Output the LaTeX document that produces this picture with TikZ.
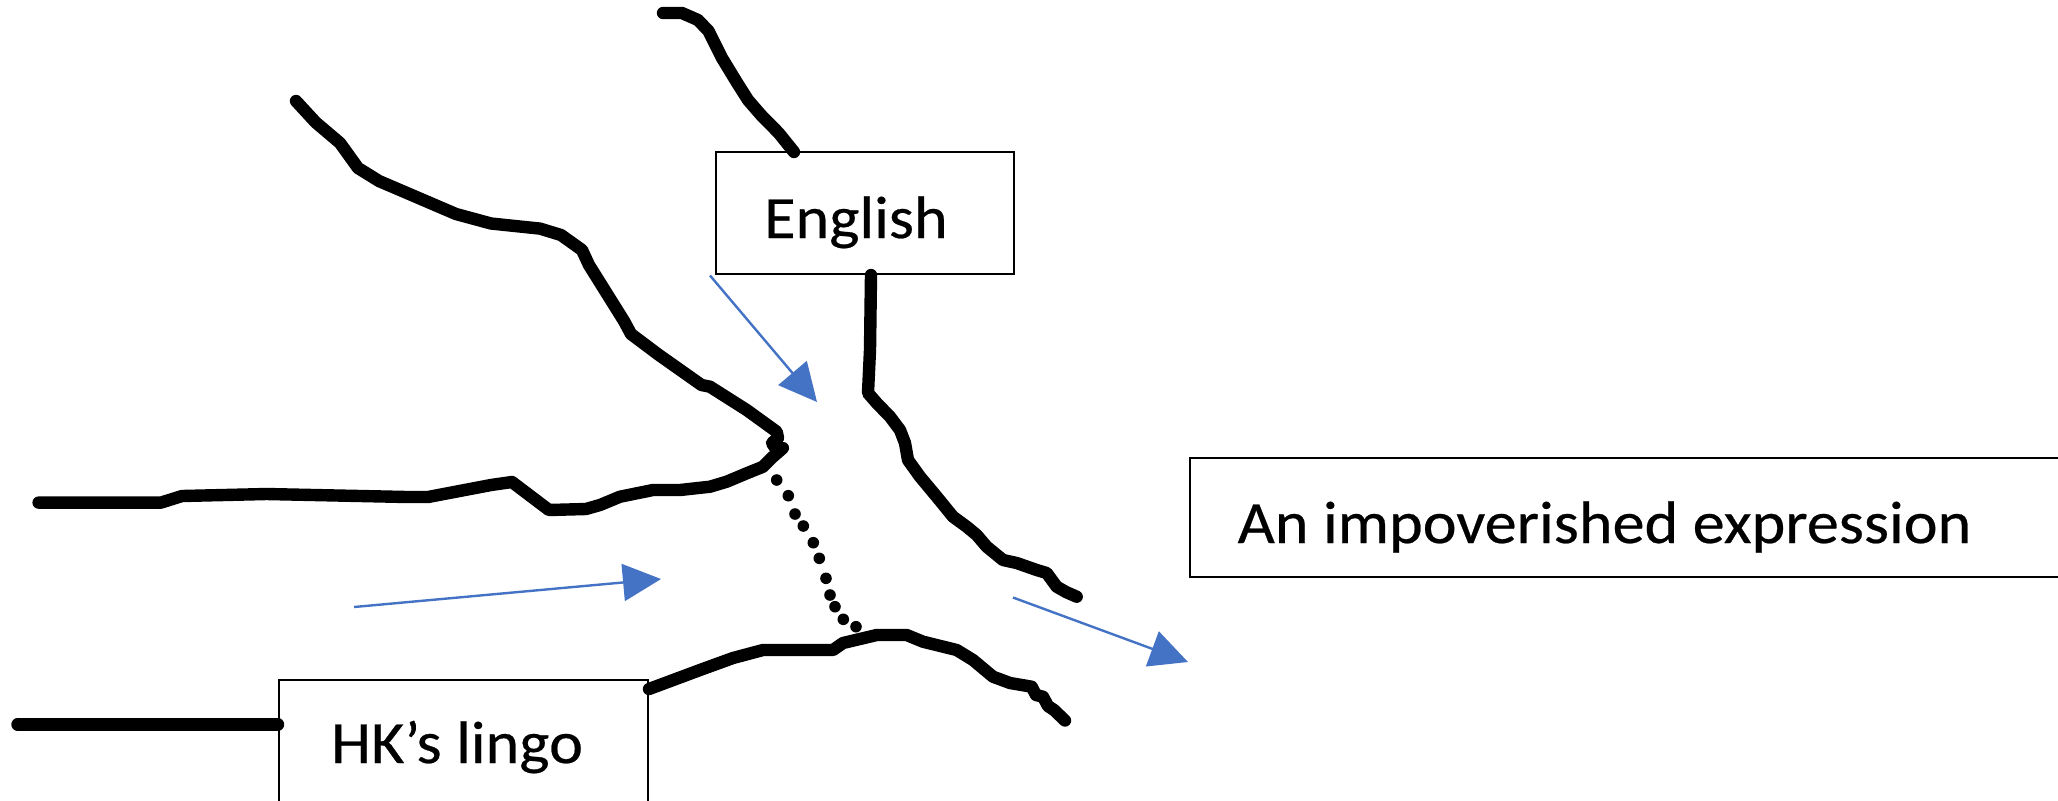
\documentclass[tikz,border=0pt]{standalone}
\usepackage{fontspec}
\setmainfont{Carlito}[FakeStretch=1.07,FakeBold=0.4]
\usetikzlibrary{arrows.meta,calc}
\definecolor{arrowblue}{HTML}{4472C4}
\begin{document}
\begin{tikzpicture}[x=0.5pt,y=-0.5pt,
  river/.style={line width=6.2pt,line cap=round,line join=round},
  flow/.style={draw=arrowblue,line width=1.2pt,-{Triangle[length=19pt,width=18.5pt]},arrowblue},
  box/.style={draw,line width=1pt,inner sep=0pt,fill=white},
  lab/.style={font=\fontsize{30}{36}\selectfont,inner sep=0pt,anchor=base}]
\clip (0,0) rectangle (2058,800);
\fill[white] (0,0) rectangle (2058,800);

% boxes
\node[box,minimum width=149pt,minimum height=61pt] (eng) at (864.6,213) {};
\node[box,minimum width=184.5pt,minimum height=75pt] (hk) at (463.5,755) {};
\node[box,minimum width=445pt,minimum height=59.5pt] (imp) at (1635,517.5) {};

\node[lab] (engt) at (856,238) {English};
\node[lab] (hkt) at (457,763) {HK’s lingo};
\node[lab] (impt) at (1604.5,543) {An impoverished expression};

% top-left English bank (ends at box top)
\draw[river] (663,13) -- (682,13) -- (698,20) -- (708.5,31) -- (722,58) -- (736.6,82)
  -- (748,100) -- (761,115) -- (778.7,133) -- (794,152);

% right bank from English box
\draw[river] ([xshift=3.2pt]eng.south) -- (870,350) -- (868,393) -- (876.7,403) -- (890,416.7)
  -- (900,430) -- (905,443) -- (908,460) -- (920,476.7) -- (936.7,496.7) -- (953,516.7)
  -- (966.7,526.7) -- (976.7,535) -- (986.7,546.7) -- (1003,560) -- (1016.7,563)
  -- (1036.7,570) -- (1046.7,573) -- (1056.7,586.7) -- (1066,592) -- (1076.7,596.7);

% left bank: from top-left, to junction, then back to the left
\draw[river] (296,101) -- (315.7,122.4) -- (340,143) -- (358,168) -- (379,181) -- (414,196)
  -- (456,214) -- (491,223.5) -- (540,228.6) -- (561,235) -- (582,250) -- (589,265)
  -- (624,321) -- (631,334) -- (659,355) -- (701.5,385) -- (710,386.7) -- (746.7,410)
  -- (776.7,431.7) -- (778,438) -- (772,443) -- (776,449) -- (783,448) -- (773,456.7)
  -- (763,466.7) -- (746.7,473.3) -- (726.7,481.7) -- (710,486.7) -- (680,490)
  -- (653,490) -- (620,496.7) -- (600,505) -- (586,509) -- (549,510) -- (512,482)
  -- (491,485) -- (428,497) -- (407,497) -- (266.6,494) -- (182,496) -- (161,502.6)
  -- (38.6,502.6);

% lower bank from HK box
\draw[river] ([yshift=-5pt]hk.north east) -- (700,670) -- (733,658) -- (763,650) -- (833,650)
  -- (843,643) -- (876.7,635) -- (906.7,635) -- (923,641.7) -- (956.7,650) -- (973,660)
  -- (993,676.7) -- (1010,683) -- (1031.7,686.7) -- (1036,695) -- (1043,696.7)
  -- (1048,706) -- (1054,710) -- (1065,720.5);

% line into HK box
\draw[river] (17.5,724.5) -- (hk.west |- {(0,724.5)});

% dotted boundary
\foreach \p in {(776.7,480),(788.3,495.7),(795,514),(803.3,526),(813.3,542.7),
  (819.3,558.3),(826,578.3),(830,595),(835,606.7),(843.3,619.3),(856,626.7)}
  \fill \p circle (2.9pt);

% blue flow arrows
\draw[flow] (710,275.5) -- (817,402);
\draw[flow] (354,607) -- (661,579);
\draw[flow] (1013,597.5) -- (1188,662);
\end{tikzpicture}
\end{document}
